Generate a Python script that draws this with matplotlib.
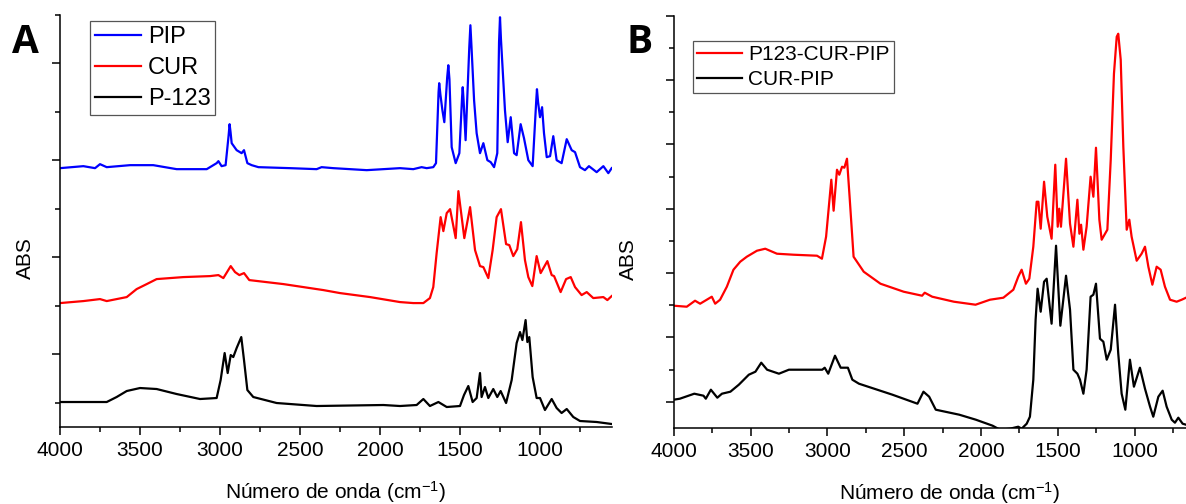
import numpy as np
import matplotlib
matplotlib.use("Agg")
import matplotlib.pyplot as plt


# panel A: PIP, CUR, P-123 (stacked, arbitrary ABS offsets)
pip_wn = [4000, 3854, 3781, 3750, 3708, 3562, 3417, 3271, 3083, 3021, 3010, 2990, 2965, 2946,
          2940, 2934, 2927, 2896, 2865, 2850, 2829, 2802, 2760, 2562, 2396, 2365, 2292, 2083,
          1875, 1792, 1740, 1708, 1667, 1650, 1634, 1630, 1622, 1610, 1598, 1580, 1573, 1566,
          1552, 1527, 1504, 1487, 1483, 1478, 1465, 1442, 1435, 1428, 1412, 1396, 1375, 1354,
          1329, 1308, 1287, 1267, 1256, 1250, 1244, 1219, 1202, 1183, 1162, 1146, 1121, 1100,
          1073, 1046, 1023, 1019, 1012, 1000, 987, 975, 958, 937, 917, 896, 865, 833, 802,
          781, 750, 719, 694, 646, 604, 573, 552]
pip_abs = [2.59, 2.61, 2.59, 2.63, 2.60, 2.62, 2.62, 2.58, 2.58, 2.64, 2.66, 2.61, 2.62, 2.92,
           3.03, 2.95, 2.84, 2.77, 2.74, 2.77, 2.64, 2.62, 2.60, 2.59, 2.58, 2.60, 2.59, 2.57,
           2.59, 2.58, 2.60, 2.59, 2.60, 2.64, 3.35, 3.44, 3.32, 3.17, 3.05, 3.50, 3.62, 3.48,
           2.80, 2.64, 2.74, 3.30, 3.40, 3.28, 2.87, 3.80, 4.02, 3.80, 3.27, 2.94, 2.74, 2.84,
           2.67, 2.65, 2.60, 2.74, 3.85, 4.10, 3.88, 3.17, 2.85, 3.10, 2.74, 2.72, 3.03, 2.89,
           2.67, 2.61, 3.28, 3.38, 3.25, 3.10, 3.20, 2.94, 2.70, 2.71, 2.91, 2.67, 2.64, 2.88,
           2.77, 2.75, 2.60, 2.57, 2.61, 2.55, 2.61, 2.54, 2.59]

cur_wn = [4000, 3854, 3750, 3708, 3583, 3521, 3458, 3396, 3229, 3062, 3010, 2979, 2933, 2906,
          2879, 2850, 2817, 2604, 2396, 2354, 2250, 2062, 1875, 1792, 1729, 1688, 1667, 1646,
          1621, 1604, 1583, 1562, 1527, 1510, 1473, 1437, 1406, 1375, 1354, 1323, 1296, 1271,
          1244, 1212, 1192, 1167, 1142, 1119, 1094, 1073, 1048, 1021, 996, 954, 927, 912, 871,
          837, 808, 781, 740, 708, 667, 604, 579, 552]
cur_abs = [1.24, 1.26, 1.28, 1.26, 1.30, 1.38, 1.43, 1.48, 1.50, 1.51, 1.52, 1.49, 1.61, 1.55,
           1.52, 1.54, 1.47, 1.43, 1.38, 1.37, 1.34, 1.30, 1.25, 1.24, 1.24, 1.29, 1.40, 1.74,
           2.10, 1.96, 2.14, 2.18, 1.89, 2.36, 1.89, 2.20, 1.77, 1.61, 1.60, 1.49, 1.77, 2.10,
           2.18, 1.83, 1.82, 1.71, 1.78, 2.05, 1.67, 1.50, 1.41, 1.71, 1.54, 1.66, 1.52, 1.51,
           1.35, 1.48, 1.50, 1.40, 1.32, 1.35, 1.29, 1.30, 1.27, 1.31]

p123_wn = [4000, 3708, 3646, 3583, 3500, 3396, 3271, 3125, 3021, 2996, 2971, 2952, 2933, 2917,
           2896, 2867, 2850, 2829, 2792, 2646, 2396, 1979, 1875, 1771, 1729, 1688, 1635, 1583,
           1500, 1475, 1448, 1421, 1396, 1375, 1365, 1344, 1323, 1292, 1267, 1246, 1212, 1177,
           1146, 1125, 1110, 1090, 1079, 1067, 1046, 1021, 1000, 969, 927, 896, 865, 833, 792,
           750, 646, 552]
p123_abs = [0.25, 0.25, 0.30, 0.36, 0.39, 0.38, 0.33, 0.28, 0.29, 0.47, 0.74, 0.54, 0.72, 0.70,
            0.79, 0.90, 0.67, 0.37, 0.30, 0.24, 0.21, 0.22, 0.21, 0.22, 0.28, 0.21, 0.25, 0.20,
            0.21, 0.32, 0.41, 0.25, 0.29, 0.54, 0.30, 0.40, 0.29, 0.38, 0.30, 0.36, 0.24, 0.47,
            0.84, 0.95, 0.87, 1.07, 0.85, 0.90, 0.50, 0.29, 0.29, 0.17, 0.28, 0.19, 0.14, 0.18,
            0.10, 0.06, 0.05, 0.03]

# panel B: P123-CUR-PIP and CUR-PIP
mix_wn = [4000, 3915, 3861, 3828, 3752, 3730, 3698, 3654, 3611, 3567, 3524, 3458, 3404, 3328,
          3220, 3067, 3035, 3008, 2974, 2959, 2937, 2922, 2904, 2889, 2872, 2855, 2829, 2763,
          2654, 2503, 2383, 2366, 2317, 2176, 2035, 1941, 1854, 1789, 1757, 1735, 1707, 1685,
          1659, 1637, 1626, 1611, 1589, 1568, 1540, 1516, 1500, 1490, 1479, 1446, 1420, 1398,
          1372, 1359, 1348, 1333, 1312, 1286, 1268, 1251, 1229, 1214, 1192, 1177, 1155, 1134,
          1116, 1106, 1090, 1073, 1051, 1034, 1019, 986, 954, 932, 910, 884, 856, 830, 802,
          769, 726, 693, 665]
mix_abs = [1.22, 1.21, 1.27, 1.24, 1.31, 1.24, 1.28, 1.41, 1.58, 1.66, 1.71, 1.77, 1.79, 1.74,
           1.73, 1.72, 1.69, 1.91, 2.48, 2.17, 2.58, 2.53, 2.61, 2.60, 2.69, 2.31, 1.71, 1.56,
           1.44, 1.36, 1.32, 1.35, 1.31, 1.26, 1.23, 1.28, 1.30, 1.38, 1.51, 1.58, 1.44, 1.49,
           1.81, 2.26, 2.26, 1.99, 2.46, 2.11, 1.89, 2.63, 2.01, 2.19, 2.01, 2.69, 2.04, 1.81,
           2.28, 1.94, 2.03, 1.78, 2.01, 2.51, 2.31, 2.80, 2.08, 1.88, 1.94, 1.98, 2.68, 3.54,
           3.91, 3.94, 3.68, 2.81, 1.98, 2.08, 1.91, 1.67, 1.74, 1.81, 1.61, 1.43, 1.61, 1.58,
           1.41, 1.28, 1.26, 1.28, 1.30]

curpip_wn = [4000, 3960, 3866, 3806, 3791, 3758, 3716, 3686, 3631, 3576, 3511, 3468, 3430, 3392,
             3315, 3250, 3098, 3033, 3017, 2994, 2950, 2913, 2866, 2837, 2794, 2576, 2413, 2374,
             2337, 2294, 2141, 2033, 1924, 1876, 1811, 1757, 1735, 1702, 1681, 1659, 1644, 1631,
             1611, 1589, 1572, 1540, 1511, 1483, 1446, 1420, 1398, 1372, 1355, 1333, 1312, 1286,
             1268, 1251, 1225, 1203, 1181, 1155, 1127, 1106, 1084, 1060, 1030, 1004, 965, 932,
             899, 878, 845, 817, 791, 758, 737, 715, 687, 665]
curpip_abs = [0.28, 0.29, 0.34, 0.32, 0.29, 0.38, 0.30, 0.34, 0.36, 0.43, 0.53, 0.56, 0.65, 0.58,
              0.54, 0.58, 0.58, 0.58, 0.60, 0.54, 0.72, 0.60, 0.60, 0.48, 0.44, 0.33, 0.24, 0.36,
              0.31, 0.18, 0.13, 0.08, 0.02, -0.02, -0.01, 0.01, -0.01, 0.04, 0.11, 0.48, 1.08,
              1.39, 1.16, 1.46, 1.49, 1.04, 1.82, 1.02, 1.52, 1.18, 0.58, 0.54, 0.48, 0.34, 0.58,
              1.31, 1.33, 1.44, 0.89, 0.86, 0.68, 0.78, 1.23, 0.74, 0.34, 0.18, 0.68, 0.41, 0.60,
              0.39, 0.21, 0.11, 0.31, 0.37, 0.21, 0.08, 0.05, 0.10, 0.04, 0.03]

x_ticks = [4000, 3500, 3000, 2500, 2000, 1500, 1000]

plt.rcParams["font.family"] = ["Liberation Sans", "DejaVu Sans"]
plt.rcParams["mathtext.fontset"] = "custom"
plt.rcParams["mathtext.rm"] = "Liberation Sans"
plt.rcParams["mathtext.it"] = "Liberation Sans:italic"


def style_axis(ax, xmax, xmin, tick_start, tick_step, n_ticks, major_odd):

    ax.set_xlim(xmax, xmin)
    ax.set_ylim(0, 4.12)

    for side in ["top", "right"]:
        ax.spines[side].set_visible(False)

    for side in ["left", "bottom"]:
        ax.spines[side].set_linewidth(1.1)

    ax.set_xticks(x_ticks)
    ax.set_xticks(np.arange(4000, xmin, -250), minor=True)

    all_ticks = tick_start + tick_step * np.arange(n_ticks)
    first = 1 if major_odd else 0
    ax.set_yticks(all_ticks[first::2])
    ax.set_yticks(all_ticks[1 - first::2], minor=True)
    ax.set_yticklabels([])

    ax.tick_params(which="major", direction="out", length=6, width=1.1, labelsize=15, pad=4)
    ax.tick_params(which="minor", direction="out", length=3.5, width=1.1)

    ax.set_xlabel(r"Número de onda (cm$^{\mathregular{-1}}$)", fontsize=15)
    ax.set_ylabel("ABS", fontsize=15)


def main():

    fig = plt.figure(figsize=(11.86, 5.04), dpi=100)

    ax_a = fig.add_axes([60 / 1186, 77 / 504, 552 / 1186, 412 / 504])
    ax_b = fig.add_axes([673.7 / 1186, 76.3 / 504, 512.3 / 1186, 412 / 504])

    ax_a.plot(pip_wn, pip_abs, color="#0000ff", lw=1.6, label="PIP")
    ax_a.plot(cur_wn, cur_abs, color="#ff0000", lw=1.6, label="CUR")
    ax_a.plot(p123_wn, p123_abs, color="black", lw=1.6, label="P-123")

    ax_b.plot(mix_wn, mix_abs, color="#ff0000", lw=1.6, label="P123-CUR-PIP")
    ax_b.plot(curpip_wn, curpip_abs, color="black", lw=1.6, label="CUR-PIP")

    style_axis(ax_a, 4000, 550, 0.2425, 0.485, 9, True)
    style_axis(ax_b, 4000, 665, 0.26, 0.3217, 13, False)

    ax_a.yaxis.set_label_coords(-0.045, 0.41)
    ax_b.yaxis.set_label_coords(-0.07, 0.41)
    ax_a.xaxis.set_label_coords(0.5, -0.127)
    ax_b.xaxis.set_label_coords(0.538, -0.127)

    leg_a = ax_a.legend(loc="upper left", bbox_to_anchor=(0.054, 0.985), borderaxespad=0,
                        fontsize=17, handlelength=1.95, handletextpad=0.3, labelspacing=0.38,
                        borderpad=0.2, fancybox=False, framealpha=1, edgecolor="#555555")
    leg_a.get_frame().set_linewidth(0.9)

    leg_b = ax_b.legend(loc="upper left", bbox_to_anchor=(0.038, 0.939), borderaxespad=0,
                        fontsize=15, handlelength=2.15, handletextpad=0.3, labelspacing=0.28,
                        borderpad=0.2, fancybox=False, framealpha=1, edgecolor="#555555")
    leg_b.get_frame().set_linewidth(0.9)

    fig.text(11.6 / 1186, 1 - 53 / 504, "A", fontsize=28, fontweight="bold",
             family="Open Sans", va="baseline")
    fig.text(626 / 1186, 1 - 53 / 504, "B", fontsize=28, fontweight="bold",
             family="Open Sans", va="baseline")

    fig.savefig("out.png", dpi=100)


if __name__ == "__main__":
    main()
